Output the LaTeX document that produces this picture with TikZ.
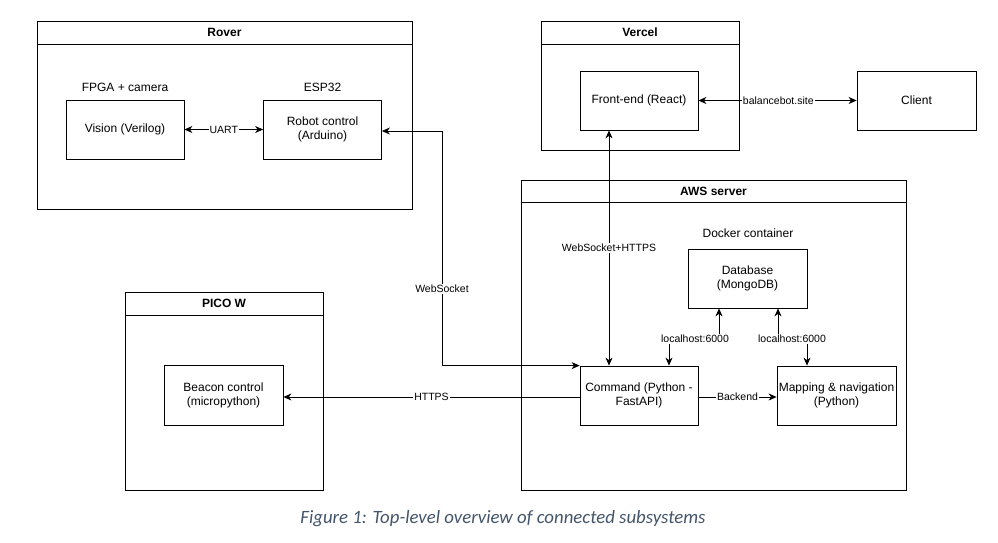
\documentclass[tikz,border=0pt]{standalone}
\usepackage{fontspec}
\setmainfont{Liberation Sans}
\newfontfamily\capfont{Carlito}
\usetikzlibrary{arrows.meta}
\definecolor{capcol}{HTML}{44546A}
\begin{document}
\begin{tikzpicture}[x=1pt,y=-1pt,line width=0.8pt,
  lane/.style={draw, rectangle, inner sep=0pt, anchor=north west},
  comp/.style={draw, rectangle, inner sep=0pt, minimum width=118pt, minimum height=59pt, align=center, font=\fontsize{12}{14}\selectfont},
  lanetitle/.style={font=\bfseries\fontsize{12}{14}\selectfont},
  plaintext/.style={font=\fontsize{12}{14}\selectfont},
  elabel/.style={fill=white, inner sep=1pt, font=\fontsize{10.5}{12}\selectfont},
  oneway/.style={-{Stealth[length=8pt,width=7pt,inset=2.5pt]}},
  twoway/.style={{Stealth[length=8pt,width=7pt,inset=2.5pt]}-{Stealth[length=8pt,width=7pt,inset=2.5pt]}}
]
\useasboundingbox (0,0) rectangle (998,543);

% Rover
\node[lane, minimum width=375pt, minimum height=188pt] (rover) at (37,21) {};
\draw ([yshift=-23pt]rover.north west) -- ([yshift=-23pt]rover.north east);
\node[lanetitle] (roverT) at (224.5,32.5) {Rover};
\node[plaintext] (fpgaT) at (125,87) {FPGA + camera};
\node[plaintext] (espT) at (322.5,87) {ESP32};
\node[comp] (vision) at (125,129.5) {Vision (Verilog)};
\node[comp] (robot) at (322.5,129.5) {Robot control\\(Arduino)};

% Vercel
\node[lane, minimum width=198pt, minimum height=129pt] (vercel) at (541,21) {};
\draw ([yshift=-23pt]vercel.north west) -- ([yshift=-23pt]vercel.north east);
\node[lanetitle] (vercelT) at (640,32.5) {Vercel};
\node[comp] (front) at (639,100.5) {Front-end (React)};
\node[comp, minimum width=119pt] (client) at (916.5,100.5) {Client};

% AWS server
\node[lane, minimum width=385pt, minimum height=310pt] (aws) at (521,180) {};
\draw ([yshift=-22pt]aws.north west) -- ([yshift=-22pt]aws.north east);
\node[lanetitle] (awsT) at (713.5,191) {AWS server};
\node[plaintext] (dockerT) at (748,233) {Docker container};
\node[comp, minimum width=119pt] (db) at (747.5,278.5) {Database\\(MongoDB)};
\node[comp] (cmd) at (639,395.5) {Command (Python -\\FastAPI)};
\node[comp, minimum width=119pt] (map) at (836.5,395.5) {Mapping \& navigation\\(Python)};

% PICO W
\node[lane, minimum width=198pt, minimum height=198pt] (pico) at (125,292) {};
\draw ([yshift=-23pt]pico.north west) -- ([yshift=-23pt]pico.north east);
\node[lanetitle] (picoT) at (224,303.5) {PICO W};
\node[comp, minimum width=119pt, minimum height=60pt] (beacon) at (223.5,395) {Beacon control\\(micropython)};

% Connectors
\draw[twoway] (vision) -- node[elabel] {UART} (robot);
\draw[twoway] (front) -- node[elabel, pos=0.505] {balancebot.site} (client);
\draw[twoway] (front.south -| 609,0) -- node[elabel, pos=0.5] {WebSocket+HTTPS} (cmd.north -| 609,0);
\coordinate (wsbend) at (442,131);
\draw[twoway] (robot.east |- wsbend) -- (wsbend) |- (cmd.north west);
\node[elabel] (wsL) at (442,289) {WebSocket};
\draw[oneway] (cmd.west |- 0,397) -- node[elabel] {HTTPS} (beacon.east |- 0,397);
\draw[oneway] (cmd.east |- 0,397) -- node[elabel] {Backend} (map.west |- 0,397);
\draw[twoway] (cmd.north -| 669,0) -- (669,339) -- (719,339) -- (db.south -| 719,0);
\node[elabel] (lh1) at (695,339) {localhost:6000};
\draw[twoway] (db.south -| 778,0) -- (778,339) -- (807,339) -- (map.north -| 807,0);
\node[elabel] (lh2) at (792,339) {localhost:6000};

% Caption
\node[font=\capfont\itshape\fontsize{18.8}{22}\selectfont, text=capcol] (cap) at (503,519) {Figure 1: Top-level overview of connected subsystems};
\end{tikzpicture}
\end{document}
